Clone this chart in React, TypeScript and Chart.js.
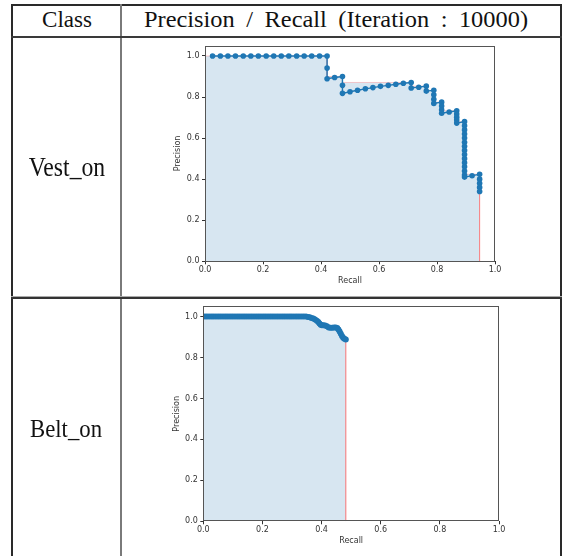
import React, { useEffect, useRef } from "react";
import { Chart, registerables } from "chart.js";

Chart.register(...registerables);

// ---------- data ----------
const headerLabels = ["Class", "Precision / Recall (Iteration : 10000)"];
const classNames = ["Vest_on", "Belt_on"];
const axisTicks = [0, 0.2, 0.4, 0.6, 0.8, 1.0];
const tickLabels = ["0.0", "0.2", "0.4", "0.6", "0.8", "1.0"];
const xTitle = "Recall";
const yTitle = "Precision";

const vestRecall = [
  0.026, 0.053, 0.079, 0.105, 0.132, 0.158, 0.184, 0.211, 0.237, 0.263, 0.289, 0.316, 0.342, 0.368, 0.395, 0.421,
  0.421, 0.421, 0.447, 0.474, 0.474, 0.474,
  0.5, 0.526, 0.553, 0.579, 0.605, 0.632, 0.658, 0.684, 0.711, 0.711,
  0.737, 0.763, 0.763, 0.789, 0.789, 0.789, 0.789,
  0.816, 0.816, 0.816, 0.816, 0.842,
  0.868, 0.868, 0.868, 0.868, 0.868,
  0.895, 0.895, 0.895, 0.895, 0.895, 0.895, 0.895, 0.895, 0.895, 0.895, 0.895, 0.895, 0.895, 0.895, 0.895,
  0.921, 0.947, 0.947, 0.947, 0.947, 0.947,
];
const vestPrecision = [
  1, 1, 1, 1, 1, 1, 1, 1, 1, 1, 1, 1, 1, 1, 1, 1,
  0.941, 0.889, 0.895, 0.9, 0.857, 0.818,
  0.826, 0.833, 0.84, 0.846, 0.852, 0.857, 0.862, 0.867, 0.871, 0.844,
  0.848, 0.853, 0.829, 0.833, 0.811, 0.789, 0.769,
  0.775, 0.756, 0.738, 0.721, 0.727,
  0.733, 0.717, 0.702, 0.688, 0.673,
  0.68, 0.66, 0.64, 0.62, 0.6, 0.58, 0.56, 0.54, 0.52, 0.5, 0.48, 0.46, 0.44, 0.42, 0.41,
  0.417, 0.424, 0.4, 0.38, 0.36, 0.34,
];
const vestAreaRecall = [0, 0.421, 0.421, 0.474, 0.474, 0.711, 0.711, 0.763, 0.763, 0.789, 0.789, 0.816, 0.816, 0.868, 0.868, 0.895, 0.895, 0.947, 0.947, 0.947];
const vestAreaPrecision = [1, 1, 0.9, 0.9, 0.871, 0.871, 0.853, 0.853, 0.833, 0.833, 0.775, 0.775, 0.733, 0.733, 0.68, 0.68, 0.424, 0.424, 0.34, 0];

const beltRecall = [
  0.003, 0.011, 0.019, 0.027, 0.035, 0.043, 0.051, 0.059, 0.067, 0.075, 0.083, 0.091, 0.099, 0.107, 0.115,
  0.123, 0.131, 0.139, 0.147, 0.155, 0.163, 0.171, 0.179, 0.187, 0.195, 0.203, 0.211, 0.219, 0.227, 0.235,
  0.243, 0.251, 0.259, 0.267, 0.275, 0.283, 0.291, 0.299, 0.307, 0.315, 0.323, 0.331, 0.339, 0.347,
  0.354, 0.36, 0.366, 0.372, 0.378, 0.384, 0.389, 0.393, 0.397, 0.401, 0.406, 0.412, 0.418, 0.424, 0.43,
  0.436, 0.442, 0.448, 0.453, 0.457, 0.461, 0.465, 0.469, 0.473, 0.477, 0.482,
];
const beltPrecision = [
  1, 1, 1, 1, 1, 1, 1, 1, 1, 1, 1, 1, 1, 1, 1,
  1, 1, 1, 1, 1, 1, 1, 1, 1, 1, 1, 1, 1, 1, 1,
  1, 1, 1, 1, 1, 1, 1, 1, 1, 1, 1, 1, 1, 1,
  0.998, 0.996, 0.993, 0.99, 0.986, 0.98, 0.973, 0.966, 0.96, 0.957, 0.958, 0.956, 0.952, 0.947, 0.945,
  0.945, 0.946, 0.946, 0.944, 0.937, 0.927, 0.916, 0.905, 0.896, 0.891, 0.888,
];
const beltAreaRecall = [0, 0.347, 0.354, 0.36, 0.366, 0.372, 0.378, 0.384, 0.389, 0.393, 0.397, 0.401, 0.406, 0.412, 0.418, 0.424, 0.436, 0.448, 0.453, 0.457, 0.461, 0.465, 0.469, 0.473, 0.477, 0.482, 0.482];
const beltAreaPrecision = [1, 1, 0.998, 0.996, 0.993, 0.99, 0.986, 0.98, 0.973, 0.966, 0.96, 0.958, 0.958, 0.956, 0.952, 0.947, 0.946, 0.946, 0.944, 0.937, 0.927, 0.916, 0.905, 0.896, 0.891, 0.888, 0];

// ---------- styling ----------
const BLUE = "#1f77b4";
const AXIS_COLOR = "#333333";
const tickFont = { family: "'DejaVu Sans', sans-serif", size: 8 };

const framePlugin = {
  id: "frame",
  afterDatasetsDraw(chart: any) {
    const { ctx, chartArea: a } = chart;
    ctx.save();
    ctx.strokeStyle = "#555555";
    ctx.lineWidth = 1;
    ctx.strokeRect(Math.round(a.left) + 0.5, Math.round(a.top) + 0.5, Math.round(a.right - a.left) - 1, Math.round(a.bottom - a.top) - 1);
    ctx.restore();
  },
};

type Layout = { padLeft: number; padTop: number; padRight: number; padBottom: number; yW: number; xH: number; r: number; lw: number };

function labelFor(v: number) {
  const i = axisTicks.findIndex((t) => Math.abs(t - v) < 1e-9);
  return i >= 0 ? tickLabels[i] : "";
}

function makeConfig(rec: number[], prec: number[], aRec: number[], aPrec: number[], lay: Layout): any {
  return {
    type: "line",
    data: {
      datasets: [
        {
          data: rec.map((x, i) => ({ x, y: prec[i] })),
          borderColor: BLUE,
          backgroundColor: BLUE,
          pointBackgroundColor: BLUE,
          borderWidth: lay.lw,
          pointRadius: lay.r,
          pointHoverRadius: lay.r,
          pointBorderWidth: 0,
          fill: false,
          tension: 0,
          order: 0,
        },
        {
          data: aRec.map((x, i) => ({ x, y: aPrec[i] })),
          borderColor: "rgba(255,0,0,0.2)",
          borderWidth: 1,
          backgroundColor: "rgba(31,119,180,0.18)",
          fill: "origin",
          pointRadius: 0,
          tension: 0,
          order: 1,
        },
      ],
    },
    options: {
      responsive: false,
      animation: false,
      events: [],
      layout: { padding: { left: lay.padLeft, top: lay.padTop, right: lay.padRight, bottom: lay.padBottom } },
      plugins: { legend: { display: false }, tooltip: { enabled: false } },
      scales: {
        x: {
          type: "linear",
          min: 0,
          max: 1,
          afterFit: (s: any) => {
            s.height = lay.xH;
          },
          afterBuildTicks: (s: any) => {
            s.ticks = axisTicks.map((v) => ({ value: v }));
          },
          ticks: { callback: (v: number) => labelFor(v), font: tickFont, color: AXIS_COLOR, padding: 1, maxRotation: 0, autoSkip: false },
          grid: { drawOnChartArea: false, drawTicks: true, tickLength: 3, color: AXIS_COLOR },
          border: { display: false },
          title: { display: true, text: xTitle, font: tickFont, color: AXIS_COLOR, padding: 0 },
        },
        y: {
          type: "linear",
          min: 0,
          max: 1.05,
          afterFit: (s: any) => {
            s.width = lay.yW;
          },
          afterBuildTicks: (s: any) => {
            s.ticks = axisTicks.map((v) => ({ value: v }));
          },
          ticks: { callback: (v: number) => labelFor(v), font: tickFont, color: AXIS_COLOR, padding: 2.5, autoSkip: false },
          grid: { drawOnChartArea: false, drawTicks: true, tickLength: 3, color: AXIS_COLOR },
          border: { display: false },
          title: { display: true, text: yTitle, font: tickFont, color: AXIS_COLOR, padding: 0 },
        },
      },
    },
    plugins: [framePlugin],
  };
}

function PRChart(props: { left: number; top: number; width: number; height: number; rec: number[]; prec: number[]; aRec: number[]; aPrec: number[]; lay: Layout }) {
  const ref = useRef<HTMLCanvasElement | null>(null);
  useEffect(() => {
    if (!ref.current) return;
    const chart = new Chart(ref.current, makeConfig(props.rec, props.prec, props.aRec, props.aPrec, props.lay));
    return () => chart.destroy();
  }, []);
  return (
    <canvas
      ref={ref}
      width={props.width}
      height={props.height}
      style={{ position: "absolute", left: props.left, top: props.top, width: props.width, height: props.height }}
    />
  );
}

function Line(p: { x: number; y: number; w: number; h: number; c: string }) {
  return <div style={{ position: "absolute", left: p.x, top: p.y, width: p.w, height: p.h, background: p.c }} />;
}

function Label(p: { text: string; cx: number; top: number; size: number; sx: number; ws?: number }) {
  return (
    <div
      style={{
        position: "absolute",
        left: p.cx - 250,
        width: 500,
        top: p.top,
        textAlign: "center",
        fontFamily: "'Liberation Serif', serif",
        fontSize: p.size,
        lineHeight: 1,
        whiteSpace: "pre",
        wordSpacing: p.ws ?? 0,
        color: "#111",
        transform: `scaleX(${p.sx})`,
      }}
    >
      {p.text}
    </div>
  );
}

export default function App() {
  return (
    <div style={{ position: "fixed", left: 0, top: 0, width: 562, height: 556, background: "#fff", overflow: "hidden" }}>
      <PRChart
        left={122}
        top={38}
        width={438}
        height={258}
        rec={vestRecall}
        prec={vestPrecision}
        aRec={vestAreaRecall}
        aPrec={vestAreaPrecision}
        lay={{ padLeft: 51.2, padTop: 7.7, padRight: 65, padBottom: 10.3, yW: 31.8, xH: 24.4, r: 2.8, lw: 1.4 }}
      />
      <PRChart
        left={122}
        top={299}
        width={438}
        height={257}
        rec={beltRecall}
        prec={beltPrecision}
        aRec={beltAreaRecall}
        aPrec={beltAreaPrecision}
        lay={{ padLeft: 49.9, padTop: 6.7, padRight: 61, padBottom: 10.6, yW: 31.4, xH: 24.1, r: 3, lw: 1.4 }}
      />
      {/* table rules */}
      <Line x={11} y={4} w={551} h={2} c="#2a2a2a" />
      <Line x={11} y={4} w={2} h={552} c="#2a2a2a" />
      <Line x={560} y={4} w={2} h={552} c="#2a2a2a" />
      <Line x={120} y={4} w={2} h={552} c="#7a7a7a" />
      <Line x={11} y={36} w={551} h={1.5} c="#3a3a3a" />
      <Line x={11} y={296} w={551} h={1} c="#aaaaaa" />
      <Line x={11} y={297} w={551} h={2} c="#333333" />
      {/* texts */}
      <Label text={headerLabels[0]} cx={66.5} top={9.4} size={22.6} sx={1.02} />
      <Label text={headerLabels[1]} cx={336} top={9.4} size={22.6} sx={1.08} ws={5} />
      <Label text={classNames[0]} cx={66.5} top={153.8} size={26.5} sx={0.895} />
      <Label text={classNames[1]} cx={66} top={415.5} size={26} sx={0.875} />
    </div>
  );
}
